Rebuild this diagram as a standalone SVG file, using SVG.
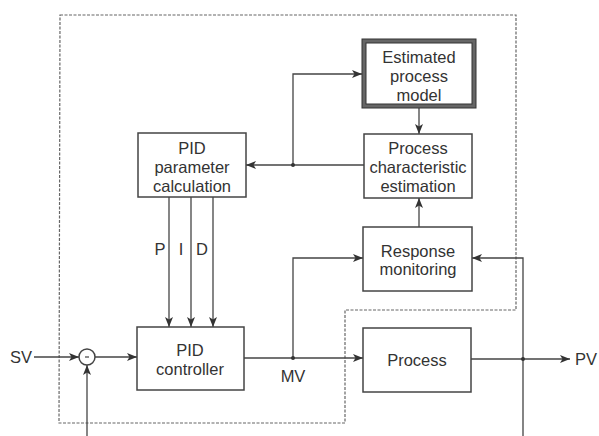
<svg xmlns="http://www.w3.org/2000/svg" width="599" height="436" viewBox="0 0 599 436">
<defs>
<marker id="arr" viewBox="0 0 10 10" refX="10" refY="5" markerWidth="10" markerHeight="10" markerUnits="userSpaceOnUse" orient="auto">
<path d="M0,1 L10,5 L0,9 L2.5,5 Z" fill="#333"/>
</marker>
<style>
.box{fill:#fff;stroke:#444;stroke-width:1.5}
.t{font-family:"Liberation Sans",Arial,sans-serif;font-size:16.5px;fill:#333;text-anchor:middle}
.c{fill:none;stroke:#444;stroke-width:1.3}
.d{fill:none;stroke:#666;stroke-width:1.2;stroke-dasharray:3 1.5}
</style>
</defs>
<rect width="599" height="436" fill="#fff"/>
<path class="d" d="M60,15 L516,15 L516,310 L345,310 L345,423 L59,423 Z"/>
<g id="connectors">
<path class="c" d="M364,165 L246,165" marker-end="url(#arr)"/>
<path class="c" d="M293,165 L293,74 L362,74" marker-end="url(#arr)"/>
<path class="c" d="M419,107 L419,134" marker-end="url(#arr)"/>
<path class="c" d="M169,197 L169,327" marker-end="url(#arr)"/>
<path class="c" d="M191,197 L191,327" marker-end="url(#arr)"/>
<path class="c" d="M213,197 L213,327" marker-end="url(#arr)"/>
<path class="c" d="M34,357 L79,357" marker-end="url(#arr)"/>
<path class="c" d="M95,357 L137,357" marker-end="url(#arr)"/>
<path class="c" d="M87,436 L87,365" marker-end="url(#arr)"/>
<path class="c" d="M244,358 L363,358" marker-end="url(#arr)"/>
<path class="c" d="M293,358 L293,258 L363,258" marker-end="url(#arr)"/>
<path class="c" d="M419,227 L419,198" marker-end="url(#arr)"/>
<path class="c" d="M471,359 L570,359" marker-end="url(#arr)"/>
<path class="c" d="M523,436 L523,258 L472,258" marker-end="url(#arr)"/>
<circle cx="293" cy="165" r="2" fill="#333"/>
<circle cx="293" cy="358" r="2" fill="#333"/>
<circle cx="523" cy="359" r="2" fill="#333"/>
</g>
<g id="estimated-model">
<rect x="364" y="41" width="110" height="65" fill="#fff" stroke="#666" stroke-width="4"/>
<rect x="362" y="39" width="114" height="69" fill="none" stroke="#333" stroke-width="1"/>
<rect x="366" y="43" width="106" height="61" fill="none" stroke="#333" stroke-width="1"/>
<text class="t" x="419" y="63">Estimated</text>
<text class="t" x="419" y="82">process</text>
<text class="t" x="419" y="101">model</text>
</g>
<g id="process-char">
<rect class="box" x="364" y="134" width="108" height="64"/>
<text class="t" x="418" y="154">Process</text>
<text class="t" x="418" y="173">characteristic</text>
<text class="t" x="418" y="192">estimation</text>
</g>
<g id="pid-param">
<rect class="box" x="138" y="133" width="108" height="64"/>
<text class="t" x="192" y="154">PID</text>
<text class="t" x="192" y="173">parameter</text>
<text class="t" x="192" y="192">calculation</text>
</g>
<g id="labels-pid">
<text class="t" x="160" y="255">P</text>
<text class="t" x="181" y="255">I</text>
<text class="t" x="202" y="255">D</text>
</g>
<g id="pid-controller">
<rect class="box" x="137" y="327" width="107" height="63"/>
<text class="t" x="190" y="356">PID</text>
<text class="t" x="190" y="375">controller</text>
</g>
<g id="sum">
<circle cx="87" cy="357" r="8" fill="#fff" stroke="#444" stroke-width="1.5"/>
<line x1="85" y1="357" x2="89" y2="357" stroke="#444" stroke-width="1.2"/>
</g>
<g id="sv"><text class="t" x="21" y="363">SV</text></g>
<g id="mv"><text class="t" x="293" y="382">MV</text></g>
<g id="response">
<rect class="box" x="363" y="227" width="109" height="64"/>
<text class="t" x="418" y="257">Response</text>
<text class="t" x="418" y="275">monitoring</text>
</g>
<g id="process">
<rect class="box" x="363" y="328" width="108" height="64"/>
<text class="t" x="417" y="366">Process</text>
</g>
<g id="pv"><text class="t" x="586" y="365">PV</text></g>
</svg>
